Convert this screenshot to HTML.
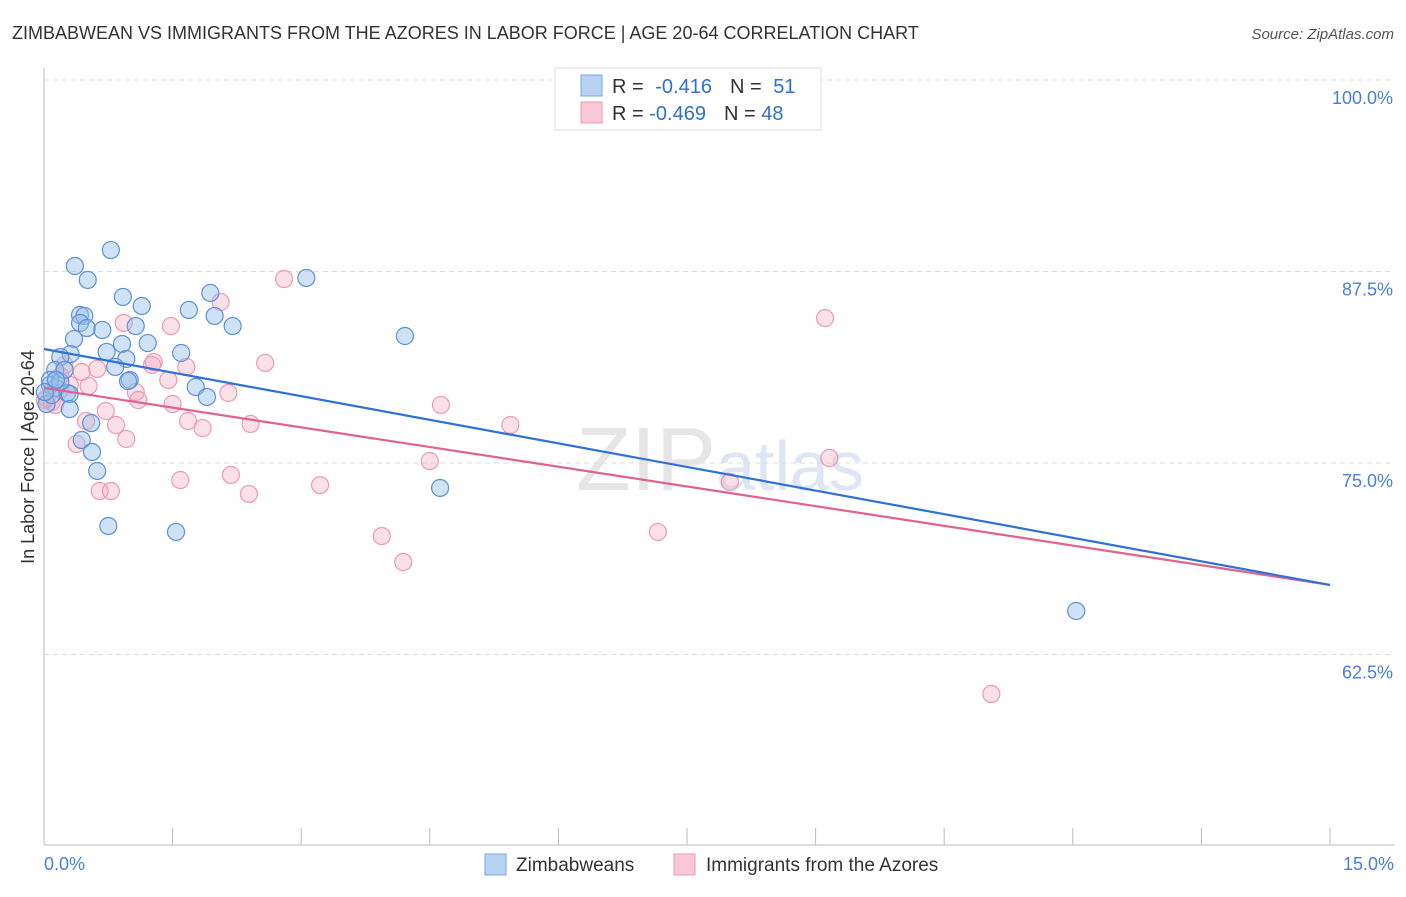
<!DOCTYPE html>
<html><head><meta charset="utf-8"><style>
body{margin:0;background:#fff;font-family:"Liberation Sans",sans-serif;}
svg text{font-family:"Liberation Sans",sans-serif;}
</style></head><body>
<svg id="chart" width="1406" height="892" xmlns="http://www.w3.org/2000/svg">
<text x="12" y="39" font-size="18" fill="#333">ZIMBABWEAN VS IMMIGRANTS FROM THE AZORES IN LABOR FORCE | AGE 20-64 CORRELATION CHART</text>
<text x="1394" y="39" font-size="15" fill="#555" font-style="italic" text-anchor="end">Source: ZipAtlas.com</text>
<text x="720" y="490" font-size="90" fill="#e6e6e6" text-anchor="middle" font-family="Liberation Serif">ZIP<tspan fill="#dde6f2" font-family="Liberation Sans" font-size="70">atlas</tspan></text>
<g id="grid"></g>
<g id="axes"></g>
<g id="points"></g>
<g id="trends"></g>
<text transform="translate(34,457) rotate(-90)" font-size="18" fill="#333" text-anchor="middle">In Labor Force | Age 20-64</text>
<text x="44" y="870" font-size="18" fill="#4a7fd6">0.0%</text>
<text x="1394" y="870" font-size="18" fill="#4a7fd6" text-anchor="end">15.0%</text>
<g>
<rect x="555" y="68" width="266" height="62" fill="#fff" stroke="#ddd"/>
<rect x="581" y="75" width="21" height="21" fill="#b8d2f2" stroke="#7aa6e0"/>
<rect x="581" y="102" width="21" height="21" fill="#f9c8d6" stroke="#ee9ab4"/>
<text x="612" y="93" font-size="20" fill="#333">R = <tspan fill="#2f6fd0" dx="6">-0.416</tspan><tspan dx="18">N = </tspan><tspan fill="#2f6fd0" dx="6">51</tspan></text>
<text x="612" y="120" font-size="20" fill="#333">R = <tspan fill="#2f6fd0">-0.469</tspan><tspan dx="18">N = </tspan><tspan fill="#2f6fd0">48</tspan></text>
</g>
<g>
<rect x="485" y="854" width="21" height="21" fill="#b8d2f2" stroke="#7aa6e0"/>
<text x="516" y="871" font-size="19" fill="#333">Zimbabweans</text>
<rect x="674" y="854" width="21" height="21" fill="#f9c8d6" stroke="#ee9ab4"/>
<text x="706" y="871" font-size="19" fill="#333">Immigrants from the Azores</text>
</g>
</svg>
<script>
const yTicks = [100, 87.5, 75, 62.5];
const yTickLabels = ["100.0%", "87.5%", "75.0%", "62.5%"];
const xTicks = [0,1.5,3,4.5,6,7.5,9,10.5,12,13.5,15];
const blueX = [0.78,0.36,0.51,3.06,0.92,1.14,1.94,1.69,1.99,2.2,0.42,0.47,0.42,0.5,0.68,1.07,4.21,0.35,1.21,0.91,0.73,1.6,0.31,0.19,0.96,0.83,0.13,1.0,0.98,1.77,0.07,0.14,1.9,0.27,0.3,0.03,0.3,0.44,0.56,0.62,4.62,0.75,1.54,12.04,0.55,0.07,0.09,0.19,0.01,0.24,0.14];
const blueY = [88.9,87.86,86.95,87.08,85.84,85.25,86.1,84.99,84.6,83.94,84.66,84.6,84.14,83.81,83.68,83.94,83.29,83.09,82.83,82.77,82.25,82.18,82.11,81.92,81.79,81.27,81.07,80.42,80.35,79.96,80.09,79.9,79.31,79.57,79.5,78.85,78.52,76.5,75.72,74.48,73.37,70.89,70.5,65.34,77.61,80.42,79.44,80.29,79.63,81.07,80.42];
const pinkX = [2.8,2.06,0.93,1.48,9.11,2.58,1.28,1.66,0.62,1.45,0.52,1.07,1.1,2.15,1.5,4.63,0.72,1.68,0.49,0.84,0.96,1.85,2.41,5.44,0.38,4.5,9.16,1.59,2.18,3.22,0.65,0.78,2.39,8.0,7.16,3.94,4.19,11.05,0.19,0.24,0.09,0.03,0.13,0.3,0.44,0.19,0.01,1.26];
const pinkY = [87.01,85.51,84.14,83.94,84.46,81.53,81.59,81.27,81.14,80.42,80.03,79.63,79.11,79.57,78.85,78.79,78.39,77.74,77.74,77.48,76.57,77.28,77.55,77.48,76.24,75.13,75.33,73.89,74.22,73.56,73.17,73.17,72.98,73.76,70.5,70.23,68.54,59.92,80.68,81.4,78.98,79.24,78.79,80.09,80.94,79.77,79.11,81.4];
const blueTrend = [82.44, 67.04];
const pinkTrend = [79.9, 67.04];

const NS = "http://www.w3.org/2000/svg";
function xs(v){ return 44 + v * 85.733; }
function ys(v){ return 80 + (100 - v) * 15.32; }
function mk(tag, attrs, parent){ const e=document.createElementNS(NS,tag); for(const k in attrs) e.setAttribute(k,attrs[k]); parent.appendChild(e); return e; }

const grid = document.getElementById('grid');
yTicks.forEach((t,i)=>{
  const l = mk('line',{x1:44,x2:1394,y1:ys(t),y2:ys(t),stroke:'#dcdcdc','stroke-dasharray':'5,4'},grid);
  
  
  const tx = mk('text',{x:1393,y:ys(t)+24,'font-size':18,fill:'#4a7fd6','text-anchor':'end'},grid);
  tx.textContent = yTickLabels[i];
  
  
});
const axes = document.getElementById('axes');
const ya = mk('line',{x1:44,x2:44,y1:68,y2:845,stroke:'#bbb'},axes);


const xa = mk('line',{x1:44,x2:1394,y1:845,y2:845,stroke:'#bbb'},axes);


xTicks.forEach(t=>{
  const l = mk('line',{x1:xs(t),x2:xs(t),y1:828,y2:845,stroke:'#bbb'},axes);
  
  
});
const pts = document.getElementById('points');
pinkX.forEach((x,i)=>{
  const c = mk('circle',{cx:xs(x),cy:ys(pinkY[i]),r:8.5,fill:'rgba(245,165,190,0.35)',stroke:'#ec9ab3','stroke-width':1.2},pts);
  
  
});
blueX.forEach((x,i)=>{
  const c = mk('circle',{cx:xs(x),cy:ys(blueY[i]),r:8.5,fill:'rgba(150,190,235,0.45)',stroke:'#5c90d8','stroke-width':1.2},pts);
  
  
});
const tr = document.getElementById('trends');
const pl = mk('line',{x1:xs(0),x2:xs(15),y1:ys(pinkTrend[0]),y2:ys(pinkTrend[1]),stroke:'#e0638f','stroke-width':2.2},tr);


const bl = mk('line',{x1:xs(0),x2:xs(15),y1:ys(blueTrend[0]),y2:ys(blueTrend[1]),stroke:'#2f72d6','stroke-width':2.2},tr);


</script>
</body></html>
